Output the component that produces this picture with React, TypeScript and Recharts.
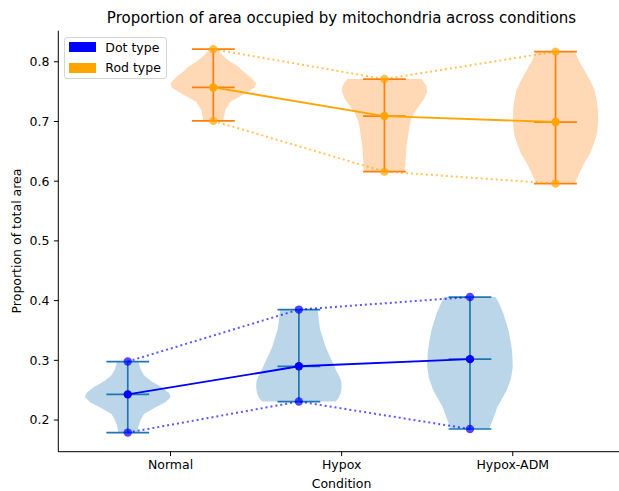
import { ScatterChart, Scatter, XAxis, YAxis, ErrorBar } from "recharts"

const conditions = ["Normal", "Hypox", "Hypox-ADM"]
const positions = [1, 2, 3]
const yTicks = [0.2, 0.3, 0.4, 0.5, 0.6, 0.7, 0.8]

// dot type mitochondria
const dotMin = [0.179, 0.231, 0.185]
const dotMedian = [0.243, 0.29, 0.302]
const dotMax = [0.298, 0.385, 0.406]

// rod type mitochondria
const rodMin = [0.701, 0.616, 0.596]
const rodMedian = [0.757, 0.709, 0.699]
const rodMax = [0.821, 0.771, 0.817]

// violin outlines: sample levels and relative density (1 = widest)
const dotNormalY = [0.179, 0.19, 0.2, 0.21, 0.22, 0.23, 0.238, 0.245, 0.255, 0.265, 0.275, 0.285, 0.298]
const dotNormalD = [0.22, 0.25, 0.3, 0.38, 0.62, 0.88, 1.0, 0.97, 0.8, 0.55, 0.38, 0.3, 0.25]
const dotHypoxY = [0.231, 0.236, 0.245, 0.256, 0.265, 0.2725, 0.285, 0.295, 0.31, 0.323, 0.34, 0.351, 0.365, 0.385]
const dotHypoxD = [0.86, 0.92, 0.98, 1.0, 0.99, 0.95, 0.86, 0.8, 0.7, 0.62, 0.55, 0.5, 0.47, 0.44]
const dotAdmY = [0.185, 0.189, 0.2, 0.222, 0.25, 0.27, 0.289, 0.31, 0.323, 0.351, 0.379, 0.395, 0.406]
const dotAdmD = [0.45, 0.47, 0.53, 0.64, 0.86, 0.96, 1.0, 0.99, 0.97, 0.9, 0.78, 0.68, 0.6]

const rodNormalY = [0.701, 0.705, 0.719, 0.733, 0.747, 0.757, 0.764, 0.775, 0.785, 0.792, 0.8, 0.8085, 0.815, 0.821]
const rodNormalD = [0.23, 0.24, 0.28, 0.4, 0.75, 0.97, 1.0, 0.86, 0.68, 0.58, 0.4, 0.25, 0.16, 0.1]
const rodHypoxY = [0.616, 0.641, 0.66, 0.6745, 0.69, 0.7025, 0.715, 0.725, 0.738, 0.75, 0.76, 0.771]
const rodHypoxD = [0.48, 0.5, 0.52, 0.55, 0.58, 0.62, 0.7, 0.8, 0.93, 1.0, 0.98, 0.87]
const rodAdmY = [0.5965, 0.6075, 0.63, 0.645, 0.663, 0.68, 0.7, 0.72, 0.737, 0.753, 0.77, 0.786, 0.8, 0.817]
const rodAdmD = [0.45, 0.52, 0.67, 0.8, 0.9, 0.97, 1.0, 0.99, 0.96, 0.91, 0.8, 0.67, 0.56, 0.45]

const legendItems = [
    { label: "Dot type", color: "#0000ff" },
    { label: "Rod type", color: "#ffa500" },
]

const C0 = "#1f77b4"
const C1 = "#ff7f0e"
const DOT_OFFSET = -0.25
const ROD_OFFSET = 0.25
const HALF_WIDTH = 0.25
const CAP = 0.125
const X_DOMAIN = [0.344, 3.656]
const FONT = "'DejaVu Sans', sans-serif"
const FONT_SIZE = 12.5

function outline(center: number, ys: number[], ds: number[]) {
    const right = ys.map((y, i) => ({ x: center + HALF_WIDTH * ds[i], y }))
    const left = ys.map((y, i) => ({ x: center - HALF_WIDTH * ds[i], y })).reverse()
    return [...right, ...left]
}

function points(offset: number, values: number[]) {
    return positions.map((p, i) => ({ x: p + offset, y: values[i] }))
}

function stats(offset: number, mins: number[], mids: number[], maxs: number[]) {
    return positions.map((p, i) => ({
        x: p + offset,
        y: mids[i],
        yErr: [mids[i] - mins[i], maxs[i] - mids[i]],
        xErr: [CAP, CAP],
    }))
}

const marker = (color: string, opacity: number) => (props: any) =>
    <circle cx={props.cx} cy={props.cy} r={4.2} fill={color} fillOpacity={opacity} />

const nothing = () => <g />

const dotViolins = [
    outline(1 + DOT_OFFSET, dotNormalY, dotNormalD),
    outline(2 + DOT_OFFSET, dotHypoxY, dotHypoxD),
    outline(3 + DOT_OFFSET, dotAdmY, dotAdmD),
]
const rodViolins = [
    outline(1 + ROD_OFFSET, rodNormalY, rodNormalD),
    outline(2 + ROD_OFFSET, rodHypoxY, rodHypoxD),
    outline(3 + ROD_OFFSET, rodAdmY, rodAdmD),
]

const tickStyle = { fill: "#000", fontSize: FONT_SIZE, fontFamily: FONT }
const dotted = "2 3"

export default function App() {
    return (
        <div style={{ position: "absolute", left: 0, top: 0, width: 619, height: 491, overflow: "hidden", background: "#fff", fontFamily: FONT }}>
            <div style={{ position: "absolute", left: 0, top: 9, width: 683, textAlign: "center", fontSize: 15, lineHeight: "18px", color: "#000" }}>
                Proportion of area occupied by mitochondria across conditions
            </div>
            <ScatterChart width={640} height={491} margin={{ top: 30.7, right: 15, left: 0, bottom: 0 }}>
                <XAxis
                    xAxisId="top"
                    orientation="top"
                    type="number"
                    dataKey="x"
                    domain={X_DOMAIN}
                    allowDataOverflow
                    height={0}
                    tick={false}
                    tickLine={false}
                    stroke="#000"
                />
                <XAxis
                    type="number"
                    dataKey="x"
                    domain={X_DOMAIN}
                    allowDataOverflow
                    ticks={positions}
                    tickFormatter={(v: number) => conditions[positions.indexOf(v)] ?? ""}
                    height={39.3}
                    tickSize={4.4}
                    tickMargin={4.4}
                    tick={tickStyle}
                    stroke="#000"
                    label={{
                        content: () => (
                            <text x={341.5} y={483.3} textAnchor="middle" dominantBaseline="central" fontSize={FONT_SIZE} fontFamily={FONT} fill="#000">
                                Condition
                            </text>
                        ),
                    }}
                />
                <YAxis
                    type="number"
                    dataKey="y"
                    domain={[0.147, 0.852]}
                    allowDataOverflow
                    ticks={yTicks}
                    tickFormatter={(v: number) => v.toFixed(1)}
                    width={58.3}
                    tickSize={4.4}
                    tickMargin={4.4}
                    tick={tickStyle}
                    stroke="#000"
                    label={{
                        content: () => (
                            <text x={16} y={241} transform="rotate(-90 16 241)" textAnchor="middle" dominantBaseline="central" fontSize={FONT_SIZE} fontFamily={FONT} fill="#000">
                                Proportion of total area
                            </text>
                        ),
                    }}
                />

                {dotViolins.map((d, i) => (
                    <Scatter key={`dv-${i}`} data={d} shape={nothing} line={{ fill: C0, fillOpacity: 0.3, stroke: "none" }} lineType="joint" isAnimationActive={false} />
                ))}
                {rodViolins.map((d, i) => (
                    <Scatter key={`rv-${i}`} data={d} shape={nothing} line={{ fill: C1, fillOpacity: 0.3, stroke: "none" }} lineType="joint" isAnimationActive={false} />
                ))}

                <Scatter data={stats(DOT_OFFSET, dotMin, dotMedian, dotMax)} shape={nothing} isAnimationActive={false}>
                    <ErrorBar dataKey="yErr" direction="y" width={21.4} stroke={C0} strokeWidth={1.7} />
                    <ErrorBar dataKey="xErr" direction="x" width={0} stroke={C0} strokeWidth={1.7} />
                </Scatter>
                <Scatter data={stats(ROD_OFFSET, rodMin, rodMedian, rodMax)} shape={nothing} isAnimationActive={false}>
                    <ErrorBar dataKey="yErr" direction="y" width={21.4} stroke={C1} strokeWidth={1.7} />
                    <ErrorBar dataKey="xErr" direction="x" width={0} stroke={C1} strokeWidth={1.7} />
                </Scatter>

                <Scatter data={points(DOT_OFFSET, dotMax)} line={{ stroke: "#0000ff", strokeOpacity: 0.65, strokeWidth: 2, strokeDasharray: dotted }} lineType="joint" shape={marker("#0000ff", 0.7)} isAnimationActive={false} />
                <Scatter data={points(DOT_OFFSET, dotMin)} line={{ stroke: "#0000ff", strokeOpacity: 0.65, strokeWidth: 2, strokeDasharray: dotted }} lineType="joint" shape={marker("#0000ff", 0.7)} isAnimationActive={false} />
                <Scatter data={points(DOT_OFFSET, dotMedian)} line={{ stroke: "#0000ff", strokeWidth: 1.9 }} lineType="joint" shape={marker("#0000ff", 1)} isAnimationActive={false} />

                <Scatter data={points(ROD_OFFSET, rodMax)} line={{ stroke: "#ffa500", strokeOpacity: 0.65, strokeWidth: 2, strokeDasharray: dotted }} lineType="joint" shape={marker("#ffa500", 0.7)} isAnimationActive={false} />
                <Scatter data={points(ROD_OFFSET, rodMin)} line={{ stroke: "#ffa500", strokeOpacity: 0.65, strokeWidth: 2, strokeDasharray: dotted }} lineType="joint" shape={marker("#ffa500", 0.7)} isAnimationActive={false} />
                <Scatter data={points(ROD_OFFSET, rodMedian)} line={{ stroke: "#ffa500", strokeWidth: 1.9 }} lineType="joint" shape={marker("#ffa500", 1)} isAnimationActive={false} />
            </ScatterChart>

            <div style={{ position: "absolute", left: 64, top: 36.7, width: 100.7, height: 40.3, border: "1px solid #d5d5d5", borderRadius: 3, background: "rgba(255,255,255,0.8)" }}>
                {legendItems.map((item, i) => (
                    <div key={item.label} style={{ position: "absolute", left: 4.3, top: 4 + i * 20.6, height: 11, display: "flex", alignItems: "center", fontSize: FONT_SIZE, color: "#000", whiteSpace: "nowrap" }}>
                        <span style={{ display: "inline-block", width: 26.7, height: 10, background: item.color, marginRight: 9.3 }} />
                        {item.label}
                    </div>
                ))}
            </div>
        </div>
    )
}
